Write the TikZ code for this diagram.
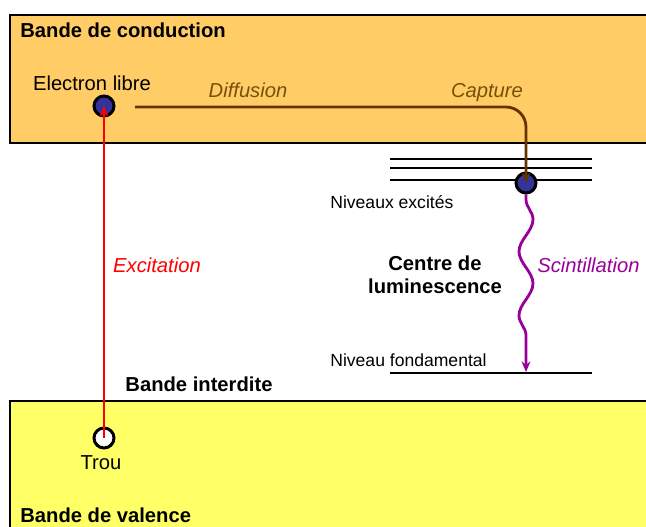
\documentclass[tikz,border=0pt]{standalone}
\usepackage{fontspec}
\setmainfont{Liberation Sans}
\usetikzlibrary{arrows.meta,decorations.pathmorphing}

\definecolor{orangebande}{RGB}{255,204,102}
\definecolor{jaunebande}{RGB}{255,255,102}
\definecolor{brun}{RGB}{102,51,0}
\definecolor{bruntexte}{RGB}{120,80,10}
\definecolor{violet}{RGB}{153,0,153}
\definecolor{bleu}{RGB}{51,51,153}

\begin{document}
\begin{tikzpicture}[x=0.02cm, y=-0.02cm,
	lbl/.style={inner sep=0pt, font=\fontsize{11.5}{13}\selectfont},
	gras/.style={inner sep=0pt, font=\fontsize{11.5}{13}\selectfont\bfseries},
	petit/.style={inner sep=0pt, font=\fontsize{10}{12}\selectfont},
	particule/.style={circle, draw=black, line width=1.7pt, minimum size=0.4cm, inner sep=0pt},
	niveau/.style={line width=1.6pt}]

		\useasboundingbox (0, 0) rectangle (646, 527);
		\clip (0, 0) rectangle (646, 527);

		% bandes
		\draw[fill=orangebande, line width=1.7pt](10, 15) rectangle (660, 143);
		\draw[fill=jaunebande, line width=1.7pt](10, 401) rectangle (660, 540);

		% niveaux du centre
		\draw[niveau](390, 159) to (592, 159);
		\draw[niveau](390, 168) to (592, 168);
		\draw[niveau](390, 180) to (592, 180);
		\draw[niveau](390, 373) to (592, 373);
		\coordinate (fond) at (526, 372);
		\coordinate (diffdebut) at (135, 107);

		\node[particule, fill=bleu] (electron) at (104, 106) {};
		\node[particule, fill=bleu] (capt) at (526, 183) {};
		\node[particule, fill=white] (trou) at (104, 438) {};

		\draw[brun, line width=1.6pt, rounded corners=0.4cm, -{Stealth[length=6pt, width=5pt]}]
			(diffdebut) -| (capt.center);
		\draw[red, line width=1.7pt, -{Stealth[length=6pt, width=5pt]}] (trou.center) -- (electron.center);
		\draw[violet, line width=1.6pt, -{Stealth[length=6pt, width=5pt]}, decorate,
			decoration={snake, segment length=1.28cm, amplitude=0.14cm, pre length=0.1cm, post length=0.3cm}]
			(capt.south) -- (fond);

		\node[gras, anchor=base west] (conduc) at (20, 38) {Bande de conduction};
		\node[lbl, anchor=base] (libre) at (92, 91) {Electron libre};
		\node[lbl, anchor=base, text=bruntexte] (diff) at (248, 98) {\itshape Diffusion};
		\node[lbl, anchor=base, text=bruntexte] (capture) at (487, 98) {\itshape Capture};
		\node[petit, anchor=base west] (excites) at (330, 209) {Niveaux excités};
		\node[gras, anchor=base] (centre) at (435, 270) {Centre de};
		\node[gras, anchor=base] (lumi) at (435, 293) {luminescence};
		\node[lbl, anchor=base west, text=violet] (scint) at (537, 272) {\itshape Scintillation};
		\node[petit, anchor=base west] (fondam) at (330, 366) {Niveau fondamental};
		\node[lbl, anchor=base, text=red] (excit) at (157, 272) {\itshape Excitation};
		\node[gras, anchor=base] (interdite) at (199, 391) {Bande interdite};
		\node[lbl, anchor=base] (troulbl) at (101, 469) {Trou};
		\node[gras, anchor=base west] (valence) at (20, 522) {Bande de valence};

	\end{tikzpicture}
\end{document}
